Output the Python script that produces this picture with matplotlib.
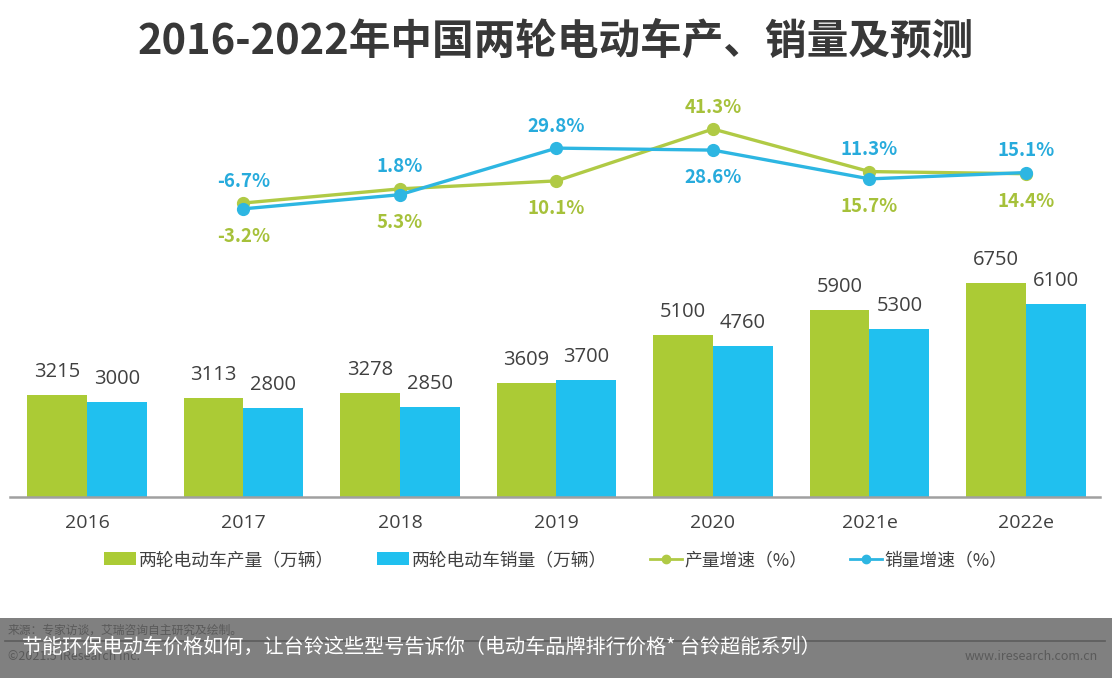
import matplotlib
matplotlib.use("Agg")
import matplotlib.pyplot as plt
from matplotlib.patches import Patch, Rectangle
from matplotlib.lines import Line2D

plt.rcParams['font.family'] = ['Noto Sans CJK SC', 'DejaVu Sans']
NUM_FONT = ['Open Sans', 'Noto Sans CJK SC', 'DejaVu Sans']

# ---- data ----
years = ["2016", "2017", "2018", "2019", "2020", "2021e", "2022e"]
production = [3215, 3113, 3278, 3609, 5100, 5900, 6750]
sales = [3000, 2800, 2850, 3700, 4760, 5300, 6100]
growth_years_idx = [1, 2, 3, 4, 5, 6]
prod_growth = [-3.2, 5.3, 10.1, 41.3, 15.7, 14.4]
sales_growth = [-6.7, 1.8, 29.8, 28.6, 11.3, 15.1]
sales_label_above = [True, True, True, False, True, True]

title = "2016-2022年中国两轮电动车产、销量及预测"
legend_labels = ["两轮电动车产量（万辆）", "两轮电动车销量（万辆）", "产量增速（%）", "销量增速（%）"]

GREEN = "#abcb35"
BLUE = "#20c0ef"
GREEN_LINE = "#b0ca45"
BLUE_LINE = "#2db6e2"
GREEN_TXT = "#a6c13a"
BLUE_TXT = "#27abdc"
TXT = "#404040"

W, H = 1112, 678
fig = plt.figure(figsize=(W / 100, H / 100), dpi=100)
fig.patch.set_facecolor("white")

x = list(range(len(years)))
xlim = (-0.492, 6.473)

# ---- bar axes ----
axb = fig.add_axes([10 / W, (H - 497) / H, 1090 / W, 237.8 / H])
bw = 0.383
axb.bar([i - bw / 2 for i in x], production, width=bw, color=GREEN, zorder=2)
axb.bar([i + bw / 2 for i in x], sales, width=bw, color=BLUE, zorder=2)
axb.set_xlim(*xlim)
axb.set_ylim(0, 7500)
for s in ["top", "right", "left"]:
    axb.spines[s].set_visible(False)
axb.spines["bottom"].set_color("#a0a0a0")
axb.spines["bottom"].set_linewidth(1.8)
axb.set_yticks([])
axb.set_xticks(x)
axb.set_xticklabels(years, fontsize=14, color=TXT, family=NUM_FONT)
axb.tick_params(axis="x", length=0, pad=12)
for i, v in enumerate(production):
    axb.annotate(str(v), (i - bw / 2, v), xytext=(0, 16.5), textcoords="offset points",
                 ha="center", va="center", fontsize=14.5, color=TXT, family=NUM_FONT)
for i, v in enumerate(sales):
    axb.annotate(str(v), (i + bw / 2, v), xytext=(0, 16.5), textcoords="offset points",
                 ha="center", va="center", fontsize=14.5, color=TXT, family=NUM_FONT)

# ---- line axes ----
axl = fig.add_axes([10 / W, (H - 240) / H, 1090 / W, 140 / H])
axl.set_xlim(*xlim)
axl.set_ylim(-25.45, 58.74)
axl.axis("off")
axl.plot(growth_years_idx, prod_growth, color=GREEN_LINE, lw=2.4, marker="o", ms=8.5, zorder=3)
axl.plot(growth_years_idx, sales_growth, color=BLUE_LINE, lw=2.4, marker="o", ms=8.5, zorder=4)
for k, i in enumerate(growth_years_idx):
    pg, sg = prod_growth[k], sales_growth[k]
    hi, lo = max(pg, sg), min(pg, sg)
    if sales_label_above[k]:
        top_txt, top_col, bot_txt, bot_col = sg, BLUE_TXT, pg, GREEN_TXT
    else:
        top_txt, top_col, bot_txt, bot_col = pg, GREEN_TXT, sg, BLUE_TXT
    axl.annotate(f"{top_txt:.1f}%", (i, hi), xytext=(0, 9), textcoords="offset points",
                 ha="center", va="bottom", fontsize=13.5, fontweight="bold", color=top_col,
                 annotation_clip=False)
    axl.annotate(f"{bot_txt:.1f}%", (i, lo), xytext=(0, -13), textcoords="offset points",
                 ha="center", va="top", fontsize=13.5, fontweight="bold", color=bot_col,
                 annotation_clip=False)

# ---- title ----
fig.text(0.5, 1 - 42 / H, title, ha="center", va="center", fontsize=30,
         fontweight="bold", color="#383838")

# ---- legend ----
handles = [
    Patch(facecolor=GREEN, edgecolor="none"),
    Patch(facecolor=BLUE, edgecolor="none"),
    Line2D([0], [0], color=GREEN_LINE, lw=2, marker="o", ms=6),
    Line2D([0], [0], color=BLUE_LINE, lw=2, marker="o", ms=6),
]
leg = fig.legend(handles, legend_labels, loc="center", bbox_to_anchor=(0.5, (H - 560) / H),
                 ncol=4, frameon=False, fontsize=12.8, handlelength=1.8, handleheight=0.75,
                 handletextpad=0.15, columnspacing=2.4)
for t in leg.get_texts():
    t.set_color(TXT)

# ---- bottom banner ----
fig.patches.append(Rectangle((0, 0), 1, 60 / H, transform=fig.transFigure,
                             facecolor="#808080", edgecolor="none", zorder=0))
fig.add_artist(Line2D([5 / W, 1105 / W], [(H - 641) / H] * 2, color="#5c5c5c", lw=1.2))
fig.text(8 / W, (H - 630) / H, "来源：专家访谈，艾瑞咨询自主研究及绘制。", fontsize=8.5,
         color="#5a5a5a", va="center", ha="left")
fig.text(8 / W, (H - 657) / H, "©2021.5 iResearch Inc.", fontsize=9, color="#5a5a5a",
         va="center", ha="left")
fig.text(1098 / W, (H - 657) / H, "www.iresearch.com.cn", fontsize=9, color="#5a5a5a",
         va="center", ha="right")
fig.text(22 / W, (H - 647) / H,
         "节能环保电动车价格如何，让台铃这些型号告诉你（电动车品牌排行价格* 台铃超能系列）",
         fontsize=14.5, color="white", va="center", ha="left")

fig.savefig("out.png", dpi=100, facecolor="white")
